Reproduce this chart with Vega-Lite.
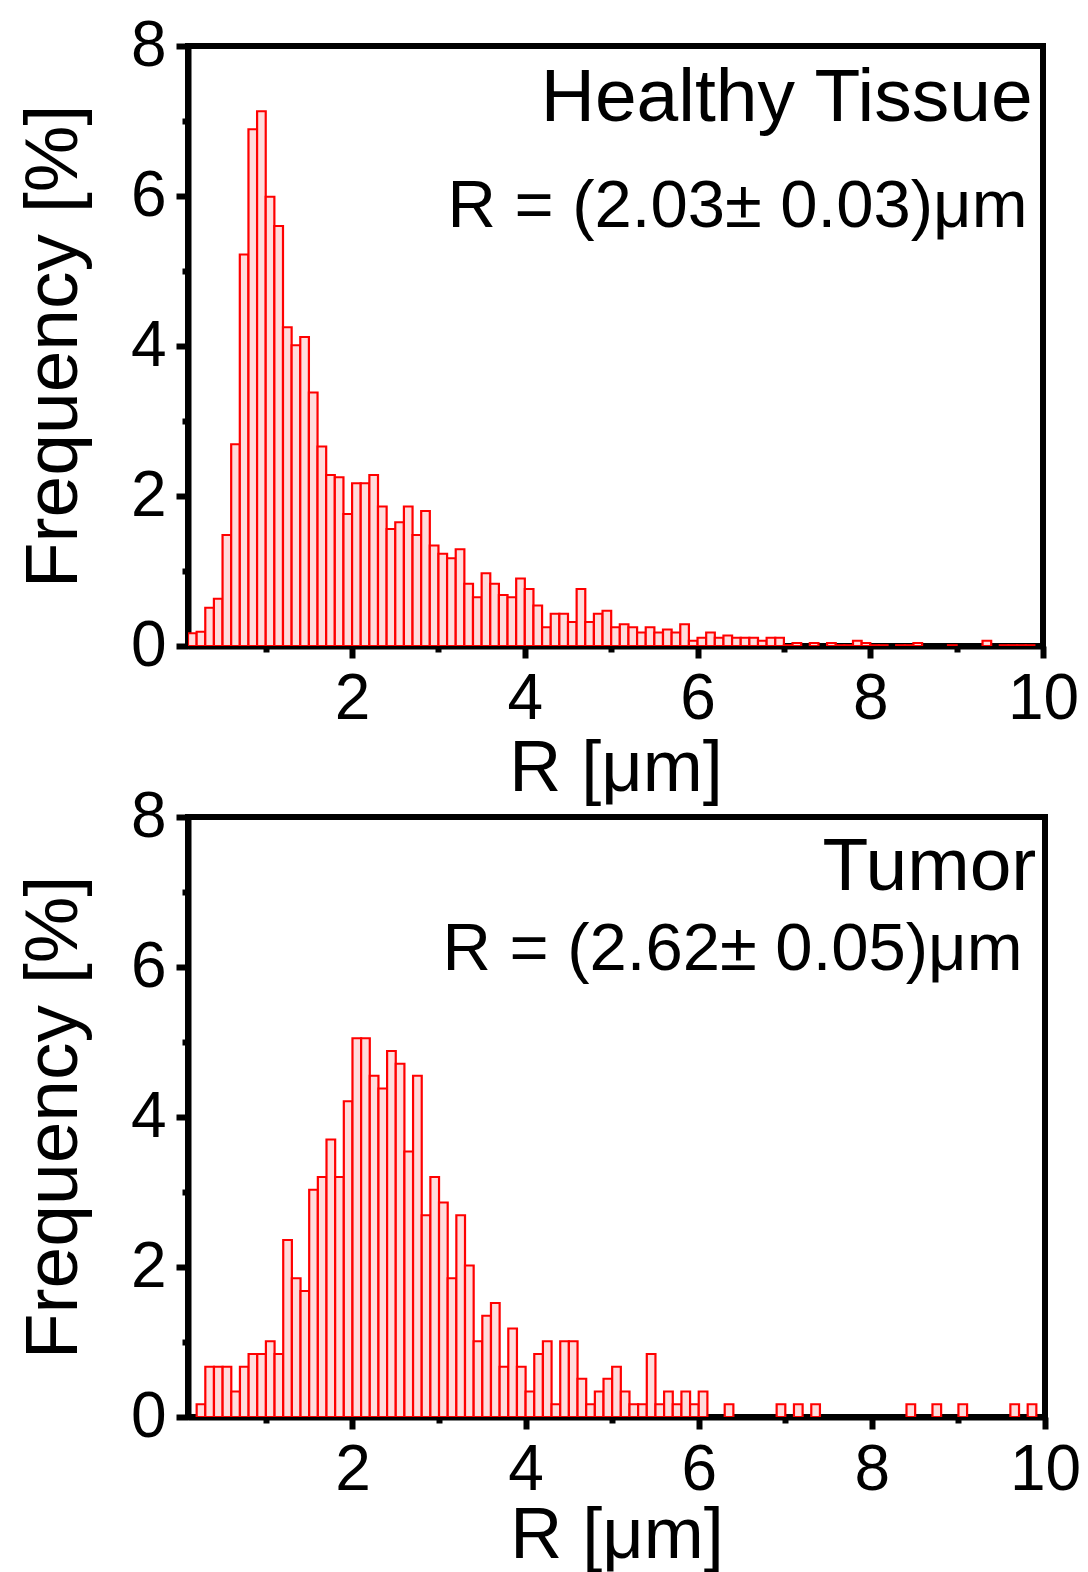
{
  "$schema": "https://vega.github.io/schema/vega-lite/v6.json",
  "background": "white",
  "padding": {"left": 13, "top": 11, "right": 5, "bottom": 3},
  "bounds": "flush",
  "spacing": 171,
  "datasets": {
    "healthy": [
      {"r0": 0.1, "r1": 0.2, "f": 0.17}, {"r0": 0.2, "r1": 0.3, "f": 0.19}, {"r0": 0.3, "r1": 0.4, "f": 0.51},
      {"r0": 0.4, "r1": 0.5, "f": 0.63}, {"r0": 0.5, "r1": 0.6, "f": 1.48}, {"r0": 0.6, "r1": 0.7, "f": 2.69},
      {"r0": 0.7, "r1": 0.8, "f": 5.22}, {"r0": 0.8, "r1": 0.9, "f": 6.89}, {"r0": 0.9, "r1": 1.0, "f": 7.13},
      {"r0": 1.0, "r1": 1.1, "f": 5.99}, {"r0": 1.1, "r1": 1.2, "f": 5.60}, {"r0": 1.2, "r1": 1.3, "f": 4.25},
      {"r0": 1.3, "r1": 1.4, "f": 4.01}, {"r0": 1.4, "r1": 1.5, "f": 4.12}, {"r0": 1.5, "r1": 1.6, "f": 3.38},
      {"r0": 1.6, "r1": 1.7, "f": 2.66}, {"r0": 1.7, "r1": 1.8, "f": 2.28}, {"r0": 1.8, "r1": 1.9, "f": 2.25},
      {"r0": 1.9, "r1": 2.0, "f": 1.76}, {"r0": 2.0, "r1": 2.1, "f": 2.17}, {"r0": 2.1, "r1": 2.2, "f": 2.17},
      {"r0": 2.2, "r1": 2.3, "f": 2.28}, {"r0": 2.3, "r1": 2.4, "f": 1.86}, {"r0": 2.4, "r1": 2.5, "f": 1.56},
      {"r0": 2.5, "r1": 2.6, "f": 1.65}, {"r0": 2.6, "r1": 2.7, "f": 1.86}, {"r0": 2.7, "r1": 2.8, "f": 1.48},
      {"r0": 2.8, "r1": 2.9, "f": 1.80}, {"r0": 2.9, "r1": 3.0, "f": 1.34}, {"r0": 3.0, "r1": 3.1, "f": 1.23},
      {"r0": 3.1, "r1": 3.2, "f": 1.17}, {"r0": 3.2, "r1": 3.3, "f": 1.29}, {"r0": 3.3, "r1": 3.4, "f": 0.83},
      {"r0": 3.4, "r1": 3.5, "f": 0.65}, {"r0": 3.5, "r1": 3.6, "f": 0.97}, {"r0": 3.6, "r1": 3.7, "f": 0.83},
      {"r0": 3.7, "r1": 3.8, "f": 0.68}, {"r0": 3.8, "r1": 3.9, "f": 0.65}, {"r0": 3.9, "r1": 4.0, "f": 0.90},
      {"r0": 4.0, "r1": 4.1, "f": 0.76}, {"r0": 4.1, "r1": 4.2, "f": 0.54}, {"r0": 4.2, "r1": 4.3, "f": 0.25},
      {"r0": 4.3, "r1": 4.4, "f": 0.43}, {"r0": 4.4, "r1": 4.5, "f": 0.43}, {"r0": 4.5, "r1": 4.6, "f": 0.32},
      {"r0": 4.6, "r1": 4.7, "f": 0.76}, {"r0": 4.7, "r1": 4.8, "f": 0.32}, {"r0": 4.8, "r1": 4.9, "f": 0.43},
      {"r0": 4.9, "r1": 5.0, "f": 0.47}, {"r0": 5.0, "r1": 5.1, "f": 0.25}, {"r0": 5.1, "r1": 5.2, "f": 0.29},
      {"r0": 5.2, "r1": 5.3, "f": 0.25}, {"r0": 5.3, "r1": 5.4, "f": 0.18}, {"r0": 5.4, "r1": 5.5, "f": 0.25},
      {"r0": 5.5, "r1": 5.6, "f": 0.18}, {"r0": 5.6, "r1": 5.7, "f": 0.22}, {"r0": 5.7, "r1": 5.8, "f": 0.18},
      {"r0": 5.8, "r1": 5.9, "f": 0.29}, {"r0": 5.9, "r1": 6.0, "f": 0.07}, {"r0": 6.0, "r1": 6.1, "f": 0.11},
      {"r0": 6.1, "r1": 6.2, "f": 0.18}, {"r0": 6.2, "r1": 6.3, "f": 0.11}, {"r0": 6.3, "r1": 6.4, "f": 0.14},
      {"r0": 6.4, "r1": 6.5, "f": 0.11}, {"r0": 6.5, "r1": 6.6, "f": 0.11}, {"r0": 6.6, "r1": 6.7, "f": 0.11},
      {"r0": 6.7, "r1": 6.8, "f": 0.07}, {"r0": 6.8, "r1": 6.9, "f": 0.11}, {"r0": 6.9, "r1": 7.0, "f": 0.11},
      {"r0": 7.0, "r1": 7.1, "f": 0.01}, {"r0": 7.1, "r1": 7.2, "f": 0.04}, {"r0": 7.3, "r1": 7.4, "f": 0.04},
      {"r0": 7.5, "r1": 7.6, "f": 0.04}, {"r0": 7.6, "r1": 7.7, "f": 0.01}, {"r0": 7.7, "r1": 7.8, "f": 0.01},
      {"r0": 7.8, "r1": 7.9, "f": 0.07}, {"r0": 7.9, "r1": 8.0, "f": 0.04}, {"r0": 8.0, "r1": 8.1, "f": 0.01},
      {"r0": 8.1, "r1": 8.2, "f": 0.01}, {"r0": 8.3, "r1": 8.4, "f": 0.01}, {"r0": 8.4, "r1": 8.5, "f": 0.01},
      {"r0": 8.5, "r1": 8.6, "f": 0.04}, {"r0": 8.9, "r1": 9.0, "f": 0.01}, {"r0": 9.3, "r1": 9.4, "f": 0.07},
      {"r0": 9.5, "r1": 9.6, "f": 0.01}, {"r0": 9.6, "r1": 9.7, "f": 0.01}, {"r0": 9.7, "r1": 9.8, "f": 0.01},
      {"r0": 9.8, "r1": 9.9, "f": 0.01}
    ],
    "tumor": [
      {"r0": 0.2, "r1": 0.3, "f": 0.17}, {"r0": 0.3, "r1": 0.4, "f": 0.67}, {"r0": 0.4, "r1": 0.5, "f": 0.67},
      {"r0": 0.5, "r1": 0.6, "f": 0.67}, {"r0": 0.6, "r1": 0.7, "f": 0.34}, {"r0": 0.7, "r1": 0.8, "f": 0.67},
      {"r0": 0.8, "r1": 0.9, "f": 0.84}, {"r0": 0.9, "r1": 1.0, "f": 0.84}, {"r0": 1.0, "r1": 1.1, "f": 1.01},
      {"r0": 1.1, "r1": 1.2, "f": 0.84}, {"r0": 1.2, "r1": 1.3, "f": 2.36}, {"r0": 1.3, "r1": 1.4, "f": 1.85},
      {"r0": 1.4, "r1": 1.5, "f": 1.68}, {"r0": 1.5, "r1": 1.6, "f": 3.03}, {"r0": 1.6, "r1": 1.7, "f": 3.20},
      {"r0": 1.7, "r1": 1.8, "f": 3.70}, {"r0": 1.8, "r1": 1.9, "f": 3.20}, {"r0": 1.9, "r1": 2.0, "f": 4.21},
      {"r0": 2.0, "r1": 2.1, "f": 5.05}, {"r0": 2.1, "r1": 2.2, "f": 5.05}, {"r0": 2.2, "r1": 2.3, "f": 4.55},
      {"r0": 2.3, "r1": 2.4, "f": 4.38}, {"r0": 2.4, "r1": 2.5, "f": 4.88}, {"r0": 2.5, "r1": 2.6, "f": 4.71},
      {"r0": 2.6, "r1": 2.7, "f": 3.54}, {"r0": 2.7, "r1": 2.8, "f": 4.55}, {"r0": 2.8, "r1": 2.9, "f": 2.69},
      {"r0": 2.9, "r1": 3.0, "f": 3.20}, {"r0": 3.0, "r1": 3.1, "f": 2.86}, {"r0": 3.1, "r1": 3.2, "f": 1.85},
      {"r0": 3.2, "r1": 3.3, "f": 2.69}, {"r0": 3.3, "r1": 3.4, "f": 2.02}, {"r0": 3.4, "r1": 3.5, "f": 1.01},
      {"r0": 3.5, "r1": 3.6, "f": 1.35}, {"r0": 3.6, "r1": 3.7, "f": 1.52}, {"r0": 3.7, "r1": 3.8, "f": 0.67},
      {"r0": 3.8, "r1": 3.9, "f": 1.18}, {"r0": 3.9, "r1": 4.0, "f": 0.67}, {"r0": 4.0, "r1": 4.1, "f": 0.34},
      {"r0": 4.1, "r1": 4.2, "f": 0.84}, {"r0": 4.2, "r1": 4.3, "f": 1.01}, {"r0": 4.3, "r1": 4.4, "f": 0.17},
      {"r0": 4.4, "r1": 4.5, "f": 1.01}, {"r0": 4.5, "r1": 4.6, "f": 1.01}, {"r0": 4.6, "r1": 4.7, "f": 0.51},
      {"r0": 4.7, "r1": 4.8, "f": 0.17}, {"r0": 4.8, "r1": 4.9, "f": 0.34}, {"r0": 4.9, "r1": 5.0, "f": 0.51},
      {"r0": 5.0, "r1": 5.1, "f": 0.67}, {"r0": 5.1, "r1": 5.2, "f": 0.34}, {"r0": 5.2, "r1": 5.3, "f": 0.17},
      {"r0": 5.3, "r1": 5.4, "f": 0.17}, {"r0": 5.4, "r1": 5.5, "f": 0.84}, {"r0": 5.5, "r1": 5.6, "f": 0.17},
      {"r0": 5.6, "r1": 5.7, "f": 0.34}, {"r0": 5.7, "r1": 5.8, "f": 0.17}, {"r0": 5.8, "r1": 5.9, "f": 0.34},
      {"r0": 5.9, "r1": 6.0, "f": 0.17}, {"r0": 6.0, "r1": 6.1, "f": 0.34}, {"r0": 6.3, "r1": 6.4, "f": 0.17},
      {"r0": 6.9, "r1": 7.0, "f": 0.17}, {"r0": 7.1, "r1": 7.2, "f": 0.17}, {"r0": 7.3, "r1": 7.4, "f": 0.17},
      {"r0": 8.4, "r1": 8.5, "f": 0.17}, {"r0": 8.7, "r1": 8.8, "f": 0.17}, {"r0": 9.0, "r1": 9.1, "f": 0.17},
      {"r0": 9.6, "r1": 9.7, "f": 0.17}, {"r0": 9.8, "r1": 9.9, "f": 0.17}
    ]
  },
  "config": {
    "view": {"stroke": "black", "strokeWidth": 6},
    "font": "Liberation Sans",
    "axis": {
      "grid": false,
      "domainColor": "black",
      "domainWidth": 6,
      "tickColor": "black",
      "tickWidth": 6,
      "labelFont": "Liberation Sans",
      "labelFontSize": 64,
      "labelColor": "black",
      "labelOverlap": false,
      "labelFlush": false,
      "titleFont": "Liberation Sans",
      "titleFontSize": 72,
      "titleFontWeight": "normal",
      "titleColor": "black"
    },
    "text": {"font": "Liberation Sans", "color": "black"}
  },
  "vconcat": [
    {
      "width": 855,
      "height": 600,
      "layer": [
        {
          "data": {"name": "healthy"},
          "mark": {"type": "bar", "fill": "#ffdcdc", "stroke": "#ff0000", "strokeWidth": 2.2, "clip": true},
          "encoding": {
            "x": {"field": "r0", "type": "quantitative", "title": "R [μm]",
                  "scale": {"domain": [0.1, 10], "nice": false, "zero": false},
                  "axis": {"values": [1, 2, 3, 4, 5, 6, 7, 8, 9, 10],
                           "labelExpr": "datum.value % 2 === 0 ? format(datum.value, 'd') : ''",
                           "tickSize": {"condition": {"test": "datum.value % 2 === 0", "value": 12}, "value": 6},
                           "labelPadding": 9, "titlePadding": 2}},
            "x2": {"field": "r1"},
            "y": {"field": "f", "type": "quantitative", "title": "Frequency [%]",
                  "scale": {"domain": [0, 8], "nice": false},
                  "axis": {"values": [0, 1, 2, 3, 4, 5, 6, 7, 8],
                           "labelExpr": "datum.value % 2 === 0 ? format(datum.value, 'd') : ''",
                           "tickSize": {"condition": {"test": "datum.value % 2 === 0", "value": 12}, "value": 6},
                           "labelPadding": 10, "titlePadding": 38, "titleFontSize": 75}},
            "y2": {"datum": 0}
          }
        },
        {
          "data": {"values": [{}]},
          "mark": {"type": "text", "align": "right", "baseline": "alphabetic", "fontSize": 75},
          "encoding": {"x": {"datum": 9.88}, "y": {"datum": 7.0}, "text": {"value": "Healthy Tissue"}}
        },
        {
          "data": {"values": [{}]},
          "mark": {"type": "text", "align": "right", "baseline": "alphabetic", "fontSize": 67},
          "encoding": {"x": {"datum": 9.82}, "y": {"datum": 5.59}, "text": {"value": "R = (2.03± 0.03)μm"}}
        }
      ]
    },
    {
      "width": 857,
      "height": 600,
      "layer": [
        {
          "data": {"name": "tumor"},
          "mark": {"type": "bar", "fill": "#ffdcdc", "stroke": "#ff0000", "strokeWidth": 2.2, "clip": true},
          "encoding": {
            "x": {"field": "r0", "type": "quantitative", "title": "R [μm]",
                  "scale": {"domain": [0.1, 10], "nice": false, "zero": false},
                  "axis": {"values": [1, 2, 3, 4, 5, 6, 7, 8, 9, 10],
                           "labelExpr": "datum.value % 2 === 0 ? format(datum.value, 'd') : ''",
                           "tickSize": {"condition": {"test": "datum.value % 2 === 0", "value": 12}, "value": 6},
                           "labelPadding": 9, "titlePadding": -2}},
            "x2": {"field": "r1"},
            "y": {"field": "f", "type": "quantitative", "title": "Frequency [%]",
                  "scale": {"domain": [0, 8], "nice": false},
                  "axis": {"values": [0, 1, 2, 3, 4, 5, 6, 7, 8],
                           "labelExpr": "datum.value % 2 === 0 ? format(datum.value, 'd') : ''",
                           "tickSize": {"condition": {"test": "datum.value % 2 === 0", "value": 12}, "value": 6},
                           "labelPadding": 10, "titlePadding": 38, "titleFontSize": 75}},
            "y2": {"datum": 0}
          }
        },
        {
          "data": {"values": [{}]},
          "mark": {"type": "text", "align": "right", "baseline": "alphabetic", "fontSize": 75},
          "encoding": {"x": {"datum": 9.9}, "y": {"datum": 7.03}, "text": {"value": "Tumor"}}
        },
        {
          "data": {"values": [{}]},
          "mark": {"type": "text", "align": "right", "baseline": "alphabetic", "fontSize": 67},
          "encoding": {"x": {"datum": 9.74}, "y": {"datum": 5.96}, "text": {"value": "R = (2.62± 0.05)μm"}}
        }
      ]
    }
  ]
}
